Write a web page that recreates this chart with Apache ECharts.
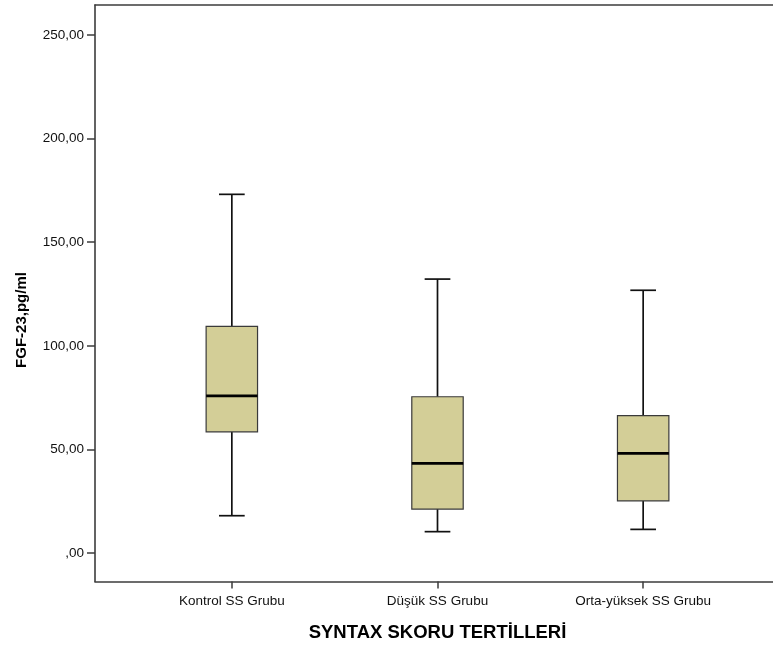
<!DOCTYPE html>
<html>
<head>
<meta charset="utf-8">
<script src="https://cdn.jsdelivr.net/npm/echarts@6/dist/echarts.min.js"></script>
<style>html,body{margin:0;padding:0;background:#fff}#c{width:773px;height:650px}</style>
</head>
<body>
<div id="c"></div>
<script>
const categories = ['Kontrol SS Grubu', 'Düşük SS Grubu', 'Orta-yüksek SS Grubu'];
const whiskerLow = [18.0, 10.3, 11.4];
const q1Values = [58.5, 21.2, 25.2];
const medians = [75.8, 43.3, 48.1];
const q3Values = [109.4, 75.4, 66.3];
const whiskerHigh = [173.1, 132.2, 126.8];
const yTicks = [0, 50, 100, 150, 200, 250];
const yTitle = 'FGF-23,pg/ml';
const xTitle = 'SYNTAX SKORU TERTİLLERİ';

const FONT = "Arial, 'Liberation Sans', sans-serif";
const boxData = categories.map((c, i) => [i, whiskerLow[i], q1Values[i], medians[i], q3Values[i], whiskerHigh[i]]);

const chart = echarts.init(document.getElementById('c'), null, {renderer: 'canvas'});
const frameLine = {show: true, lineStyle: {color: '#3c3c3c', width: 1.6}};
const hiddenAxis = {axisLine: {show: false}, axisTick: {show: false}, axisLabel: {show: false}, splitLine: {show: false}};

chart.setOption({
  animation: false,
  backgroundColor: '#fff',
  grid: [
    {left: 95, right: 0, top: 5, bottom: 68.5},
    {left: 129, right: 27, top: 35, bottom: 97},
    {left: 129, right: 27, top: 5, bottom: 68.5}
  ],
  xAxis: [
    {gridIndex: 0, type: 'category', data: [''], position: 'bottom', axisLine: frameLine, axisTick: {show: false}, axisLabel: {show: false}},
    {gridIndex: 0, type: 'category', data: [''], position: 'top', axisLine: frameLine, axisTick: {show: false}, axisLabel: {show: false}},
    Object.assign({gridIndex: 1, type: 'category', data: categories}, hiddenAxis),
    {
      gridIndex: 2, type: 'category', data: categories, position: 'bottom',
      axisLine: {show: false},
      axisTick: {show: true, alignWithLabel: true, length: 7, lineStyle: {color: '#3c3c3c', width: 1.5}},
      axisLabel: {margin: 13, color: '#111', fontFamily: FONT, fontSize: 13.5},
      name: xTitle, nameLocation: 'middle', nameGap: 42,
      nameTextStyle: {color: '#000', fontFamily: FONT, fontSize: 18.5, fontWeight: 'bold'}
    }
  ],
  yAxis: [
    {gridIndex: 0, type: 'value', min: 0, max: 1, axisLine: frameLine, axisTick: {show: false}, axisLabel: {show: false}, splitLine: {show: false}},
    {
      gridIndex: 1, type: 'value', position: 'left', offset: 34,
      min: yTicks[0], max: yTicks[yTicks.length - 1], interval: yTicks[1] - yTicks[0],
      axisLine: {show: false},
      axisTick: {show: true, length: 8, lineStyle: {color: '#3c3c3c', width: 1.5}},
      axisLabel: {margin: 11, color: '#111', fontFamily: FONT, fontSize: 13.5,
        formatter: v => v === 0 ? ',00' : v.toFixed(2).replace('.', ',')},
      splitLine: {show: false}
    },
    Object.assign({gridIndex: 2, type: 'value', min: 0, max: 1}, hiddenAxis)
  ],
  graphic: [{
    type: 'text', x: 21.5, y: 320, rotation: Math.PI / 2,
    style: {text: yTitle, fill: '#000', font: "bold 15px " + FONT, align: 'center', verticalAlign: 'middle'}
  }],
  series: [{
    type: 'custom',
    xAxisIndex: 2, yAxisIndex: 1,
    data: boxData,
    encode: {x: 0, y: [1, 2, 3, 4, 5]},
    renderItem: function (params, api) {
      const cat = api.value(0);
      const lo = api.coord([cat, api.value(1)]);
      const q1 = api.coord([cat, api.value(2)]);
      const med = api.coord([cat, api.value(3)]);
      const q3 = api.coord([cat, api.value(4)]);
      const hi = api.coord([cat, api.value(5)]);
      const band = api.size([1, 0])[0];
      const bw = band * 0.25;
      const cw = bw * 0.5;
      const x = lo[0];
      const ws = {stroke: '#111', lineWidth: 1.7};
      return {
        type: 'group',
        children: [
          {type: 'line', shape: {x1: x, y1: hi[1], x2: x, y2: q3[1]}, style: ws},
          {type: 'line', shape: {x1: x, y1: q1[1], x2: x, y2: lo[1]}, style: ws},
          {type: 'line', shape: {x1: x - cw / 2, y1: hi[1], x2: x + cw / 2, y2: hi[1]}, style: ws},
          {type: 'line', shape: {x1: x - cw / 2, y1: lo[1], x2: x + cw / 2, y2: lo[1]}, style: ws},
          {type: 'rect', shape: {x: x - bw / 2, y: q3[1], width: bw, height: q1[1] - q3[1]},
            style: {fill: '#D3CE97', stroke: '#3a3a3a', lineWidth: 1.2}},
          {type: 'line', shape: {x1: x - bw / 2, y1: med[1], x2: x + bw / 2, y2: med[1]},
            style: {stroke: '#000', lineWidth: 2.8}}
        ]
      };
    }
  }]
});
</script>
</body>
</html>
